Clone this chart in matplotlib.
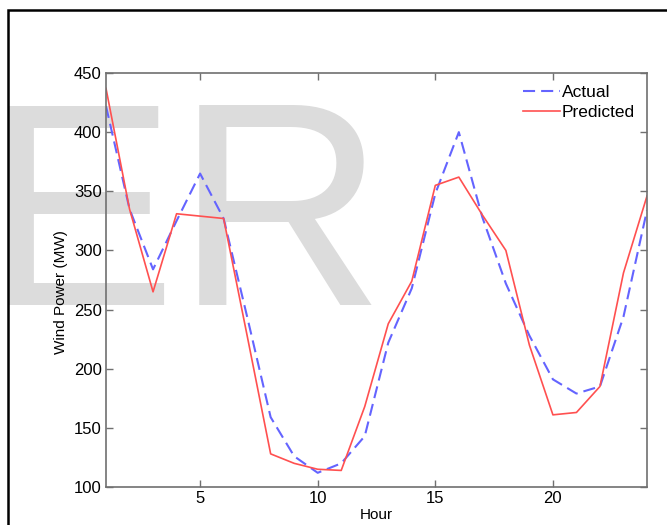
import matplotlib
matplotlib.use('Agg')
import matplotlib.pyplot as plt
from matplotlib.patches import Rectangle

# hourly wind power
hours = list(range(1, 25))
actual = [422, 335, 284, 325, 365, 327, 244, 159, 126, 112, 120, 143,
          222, 268, 348, 400, 328, 272, 228, 191, 179, 185, 244, 334]
predicted = [437, 335, 265, 331, 329, 327, 228, 128, 120, 115, 114, 168,
             238, 274, 355, 362, 330, 300, 220, 161, 163, 185, 281, 346]
xticks = [5, 10, 15, 20]
yticks = list(range(100, 451, 50))

W, H = 667, 525
plt.rcParams['font.family'] = ['Liberation Sans', 'DejaVu Sans']

fig = plt.figure(figsize=(W / 100, H / 100), dpi=100)
fig.patch.set_facecolor('white')

# outer frame (only top and left edges fall inside the image)
frame = Rectangle((8 / W, -0.5), 2.0, 1 - 10 / H + 0.5, transform=fig.transFigure,
                  fill=False, edgecolor='black', linewidth=1.8, zorder=1)
fig.patches.append(frame)

# watermark
clip = Rectangle((9 / W, -0.5), 2.0, 1 - 11 / H + 0.5, transform=fig.transFigure)
wm = fig.text(-18 / W, 1 - 305 / H, 'ER', fontsize=209, color='#dcdcdc',
              ha='left', va='baseline', zorder=-1)
wm.set_clip_path(clip)

ax = fig.add_axes([106 / W, 1 - 487 / H, 541 / W, 414 / H])
ax.set_facecolor('none')
ax.set_zorder(2)

ax.plot(hours, actual, color='#6464ff', linewidth=1.5, dashes=(5.8, 2.9), label='Actual')
ax.plot(hours, predicted, color='#ff5050', linewidth=1.2, label='Predicted')

ax.set_xlim(1, 24)
ax.set_ylim(100, 450)
ax.set_xticks(xticks)
ax.set_yticks(yticks)
ax.tick_params(direction='in', length=5, width=1, color='#707070', labelsize=12,
               top=True, right=True, pad=3)
for s in ax.spines.values():
    s.set_color('#707070')
    s.set_linewidth(1.2)

ax.set_xlabel('Hour', fontsize=11, labelpad=1)
ax.set_ylabel('Wind Power (MW)', fontsize=11)
ax.yaxis.set_label_coords(-0.07, 0.47)

ax.legend(loc='upper right', frameon=False, fontsize=12.5, handlelength=2.1,
          handletextpad=0.12, labelspacing=0.25, borderaxespad=0.3)

fig.savefig('out.png', dpi=100)
